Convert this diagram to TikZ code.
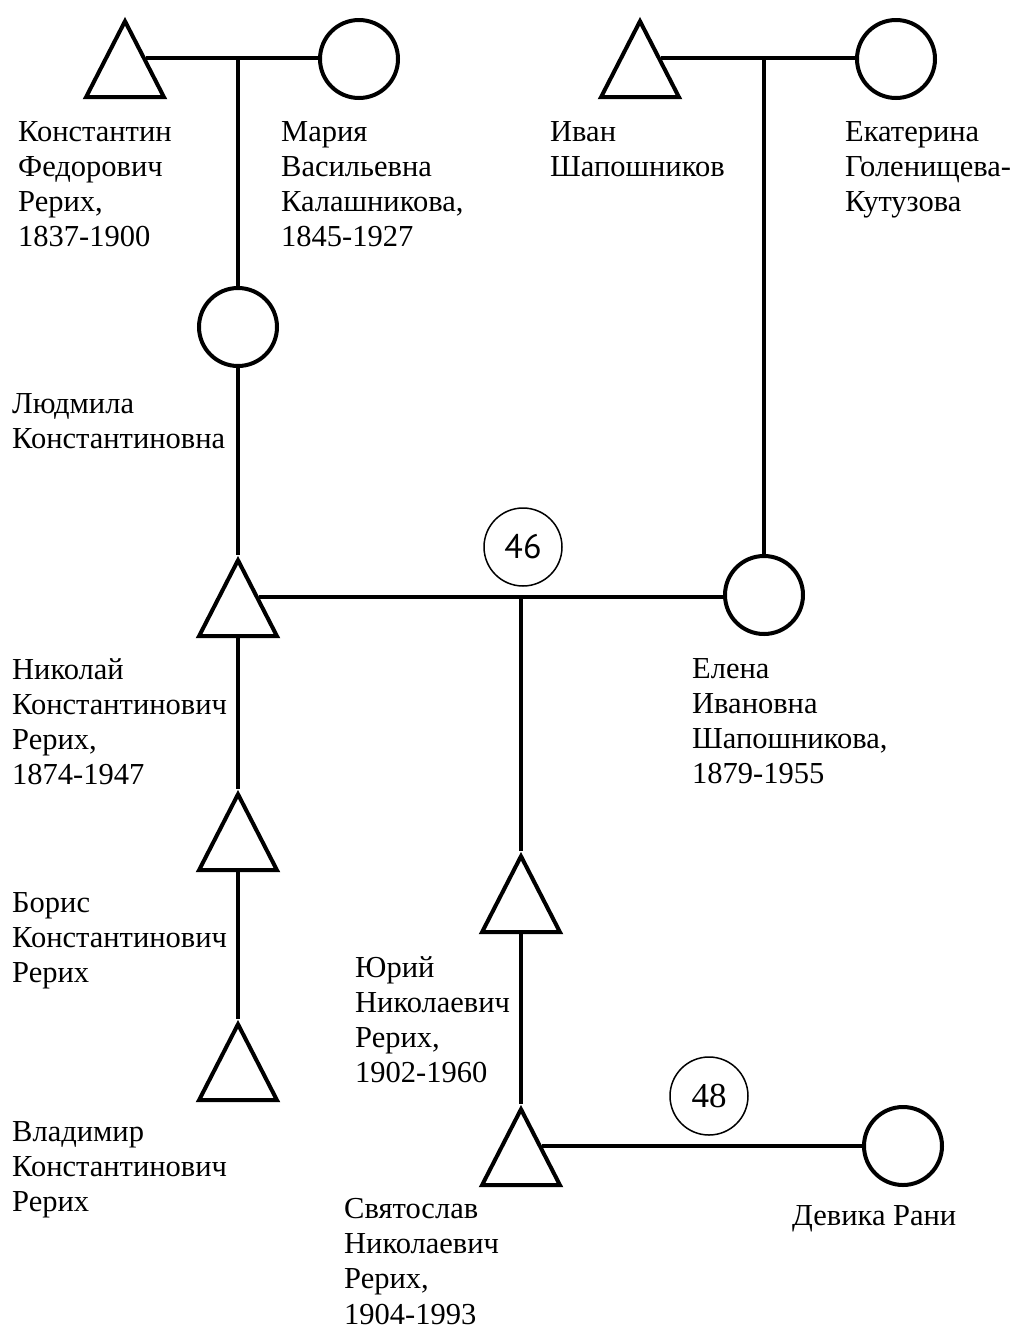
\documentclass[tikz,border=0pt]{standalone}
\usepackage{fontspec}
\setmainfont{Liberation Serif}
\newfontfamily\numsans{PT Sans}
\usetikzlibrary{positioning, shapes.geometric, calc}

\begin{document}
\begin{tikzpicture}[
    x=1pt, y=-1pt,
    male/.style={isosceles triangle, isosceles triangle stretches, shape border rotate=90, draw, line width=4pt, minimum width=78pt, minimum height=76pt, inner sep=0pt, anchor=apex},
    female/.style={circle, draw, line width=4pt, minimum size=78pt, inner sep=0pt},
    gen/.style={circle, draw, line width=1.5pt, minimum size=78pt, inner sep=0pt},
    persontext/.style={align=left, anchor=north west, inner sep=0pt, font=\fontsize{30.5}{35.2}\selectfont},
    link/.style={line width=4pt}
]
\useasboundingbox (0,0) rectangle (1019,1331);

% Parents
\node[male] (kf) at (125,16) {};
\node[female] (mv) at (359,59) {};
\node[male] (iv) at (640,16) {};
\node[female] (ek) at (896,59) {};

% Children and grandchildren
\node[female] (lk) at (238,327) {};
\node[male] (nk) at (238,555) {};
\node[female] (ei) at (764,595) {};
\node[male] (bk) at (238,789) {};
\node[male] (vk) at (238,1019) {};
\node[male] (yn) at (521,851) {};
\node[male] (sn) at (521,1104) {};
\node[female] (dr) at (903,1146) {};

% Numbers
\node[gen, font=\numsans\fontsize{34}{34}\selectfont] (g46) at (523,547) {46};
\node[gen, font=\fontsize{35}{35}\selectfont] (g48) at (709,1096) {48};

% Names
\node[persontext] (kfname) at (18,121) {Константин\\Федорович\\Рерих,\\1837-1900};
\node[persontext] (mvname) at (281,121) {Мария\\Васильевна\\Калашникова,\\1845-1927};
\node[persontext] (ivname) at (550,121) {Иван\\Шапошников};
\node[persontext] (ekname) at (845,121) {Екатерина\\Голенищева-\\Кутузова};
\node[persontext] (lkname) at (12,393) {Людмила\\Константиновна};
\node[persontext] (nkname) at (12,658) {Николай\\Константинович\\Рерих,\\1874-1947};
\node[persontext] (einame) at (692,658) {Елена\\Ивановна\\Шапошникова,\\1879-1955};
\node[persontext] (bkname) at (12,892) {Борис\\Константинович\\Рерих};
\node[persontext] (ynname) at (355,956) {Юрий\\Николаевич\\Рерих,\\1902-1960};
\node[persontext] (vkname) at (12,1121) {Владимир\\Константинович\\Рерих};
\node[persontext] (snname) at (344,1198) {Святослав\\Николаевич\\Рерих,\\1904-1993};
\node[persontext] (drname) at (792,1205) {Девика Рани};

% Marriages
\draw[link] (kf.right side) -- (kf.right side -| mv.west);
\draw[link] (iv.right side) -- (iv.right side -| ek.west);
\draw[link] (nk.right side) -- (nk.right side -| ei.west);
\draw[link] (sn.right side) -- (sn.right side -| dr.west);

% Descent
\draw[link] (lk.north) -- (lk.north |- kf.right side);
\draw[link] (lk.south) -- (nk.apex);
\draw[link] (ei.north) -- (ei.north |- iv.right side);
\draw[link] (nk.lower side) -- (bk.apex);
\draw[link] (bk.lower side) -- (vk.apex);
\draw[link] (yn.apex) -- (yn.apex |- nk.right side);
\draw[link] (yn.lower side) -- (sn.apex);

\end{tikzpicture}
\end{document}
